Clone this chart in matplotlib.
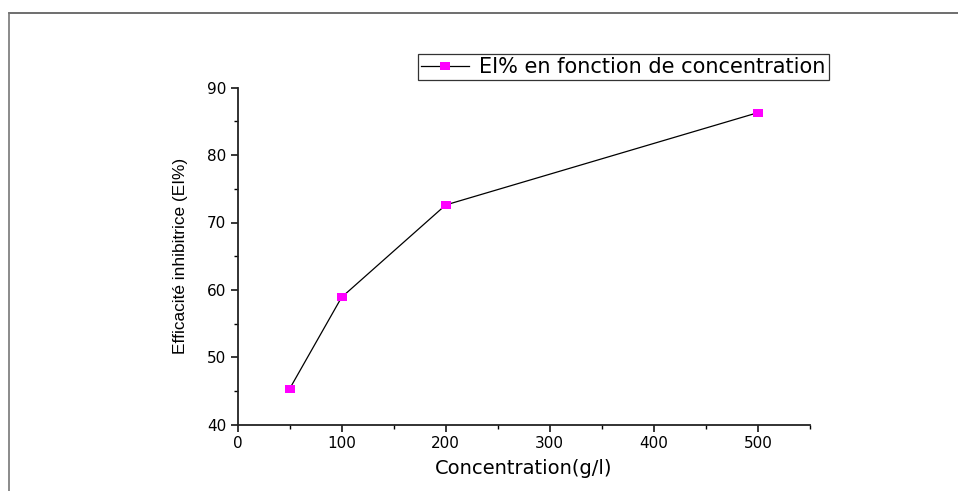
import matplotlib
matplotlib.use("Agg")
import matplotlib.pyplot as plt
from matplotlib.lines import Line2D
from matplotlib.ticker import MultipleLocator

plt.rcParams['font.family'] = ['DejaVu Sans']

# données
concentration = [50, 100, 200, 500]
efficacite = [45.3, 58.9, 72.6, 86.3]

W, H = 958, 491
fig = plt.figure(figsize=(W / 100, H / 100), dpi=100)

# cadre extérieur (haut et gauche seulement)
fig.add_artist(Line2D([9 / W, 1.0], [1 - 13 / H, 1 - 13 / H], color='#555555', lw=1.2))
fig.add_artist(Line2D([9 / W, 9 / W], [0.0, 1 - 13 / H], color='#777777', lw=1.2))

ax = fig.add_axes([237.5 / W, 1 - 424.7 / H, (810 - 237.5) / W, (424.7 - 87.7) / H])

rect = [(-1.5, -1), (1.5, -1), (1.5, 1), (-1.5, 1)]
ax.plot(concentration, efficacite, color='black', lw=0.9,
        marker=rect, markersize=7.8, markerfacecolor='#ff00ff', markeredgewidth=0,
        label='EI% en fonction de concentration')

ax.set_xlim(0, 550)
ax.set_ylim(40, 90)
ax.xaxis.set_major_locator(MultipleLocator(100))
ax.xaxis.set_minor_locator(MultipleLocator(50))
ax.yaxis.set_major_locator(MultipleLocator(10))
ax.yaxis.set_minor_locator(MultipleLocator(5))

for s in ['top', 'right']:
    ax.spines[s].set_visible(False)
for s in ['left', 'bottom']:
    ax.spines[s].set_linewidth(1.3)
    ax.spines[s].set_color('#222222')

ax.tick_params(which='major', direction='out', length=5, width=1.1, labelsize=11, pad=3)
ax.tick_params(which='minor', direction='out', length=3, width=1.0)

ax.set_xlabel('Concentration(g/l)', fontsize=14, va='center')
ax.xaxis.set_label_coords(0.5, (424.7 - 468) / 337)
ax.set_ylabel('Efficacité inhibitrice (EI%)', fontsize=12.4, va='center',
              family=['Liberation Sans', 'DejaVu Sans'])
ax.yaxis.set_label_coords((180 - 237.5) / 572.5, 0.5)

leg = ax.legend(loc='upper left', bbox_to_anchor=(418 / W, 1 - 54 / H),
                bbox_transform=fig.transFigure, fontsize=15, frameon=True,
                fancybox=False, handlelength=2.3, handletextpad=0.5,
                borderpad=0.15, borderaxespad=0)
leg.get_frame().set_edgecolor('black')
leg.get_frame().set_linewidth(0.9)

fig.savefig('out.png', dpi=100)
